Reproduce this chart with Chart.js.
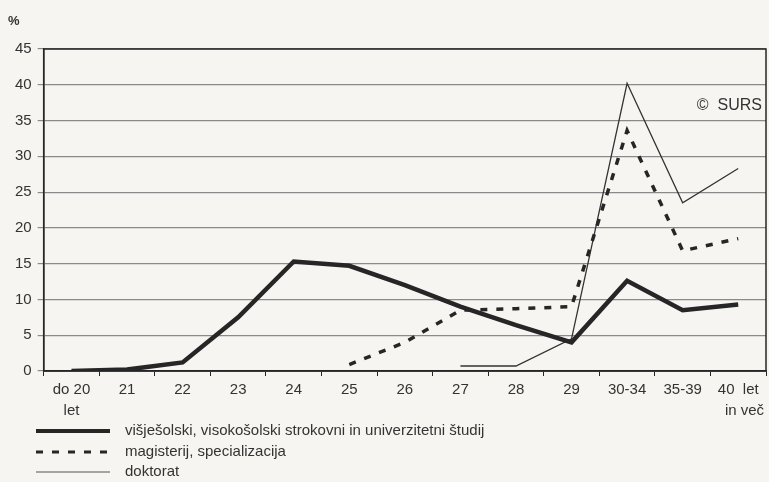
<!DOCTYPE html>
<html>
<head>
<meta charset="utf-8">
<script src="https://cdn.jsdelivr.net/npm/chart.js@4/dist/chart.umd.min.js"></script>
<style>
  html, body { margin: 0; padding: 0; background: #f6f5f1; }
  #wrap { position: relative; width: 769px; height: 482px; }
</style>
</head>
<body>
<div id="wrap"><canvas id="c" width="769" height="482"></canvas></div>
<script>
// --- Data
const ageGroups = [
  ["do 20", "let"], "21", "22", "23", "24", "25", "26", "27", "28", "29",
  "30-34", "35-39", ["40  let", "   in več"]
];
const visjeVisoko = [0, 0.2, 1.2, 7.5, 15.3, 14.7, 12, 9, 6.4, 4, 12.6, 8.5, 9.3];
const magisterij  = [null, null, null, null, null, 0.9, 4, 8.5, 8.7, 9, 33.6, 16.8, 18.5];
const doktorat    = [null, null, null, null, null, null, null, 0.7, 0.7, 4.5, 40.2, 23.5, 28.3];

const seriesNames = [
  "višješolski, visokošolski strokovni in univerzitetni študij",
  "magisterij, specializacija",
  "doktorat"
];
const yTicks = [0, 5, 10, 15, 20, 25, 30, 35, 40, 45];

const ink = "#262626";
const font = { family: "'Liberation Sans', Arial, sans-serif", size: 15 };

// ------------------------------------------
// EXTRAS: frame, %, SURS, legend
// ------------------------------------------
const extras = {
  id: "extras",
  afterDraw(chart) {
    const ctx = chart.ctx;
    const a = chart.chartArea;
    ctx.save();
    ctx.strokeStyle = ink;
    ctx.lineWidth = 1.5;
    ctx.strokeRect(a.left, a.top, a.right - a.left, a.bottom - a.top);

    ctx.fillStyle = "#333";
    ctx.font = "bold 13px 'Liberation Sans', Arial, sans-serif";
    ctx.textBaseline = "middle";
    ctx.fillText("%", 8, 21);

    ctx.font = "16px 'Liberation Sans', Arial, sans-serif";
    ctx.textAlign = "right";
    ctx.fillText("©  SURS", a.right - 4, 106);

    // legend
    ctx.font = "15px 'Liberation Sans', Arial, sans-serif";
    ctx.textAlign = "left";
    const rows = [431, 452, 472];
    const styles = [
      { w: 4, dash: [] },
      { w: 3, dash: [7, 9] },
      { w: 1.2, dash: [] }
    ];
    rows.forEach((y, i) => {
      ctx.beginPath();
      ctx.lineWidth = styles[i].w;
      ctx.setLineDash(styles[i].dash);
      ctx.strokeStyle = i === 2 ? "#555" : ink;
      ctx.moveTo(36, y);
      ctx.lineTo(110, y);
      ctx.stroke();
      ctx.setLineDash([]);
      ctx.fillText(seriesNames[i], 125, y);
    });
    ctx.restore();
  }
};

new Chart(document.getElementById("c"), {
  type: "line",
  data: {
    labels: ageGroups,
    datasets: [
      {
        label: seriesNames[0],
        data: visjeVisoko,
        borderColor: ink,
        borderWidth: 4.5,
        pointRadius: 0,
        tension: 0
      },
      {
        label: seriesNames[1],
        data: magisterij,
        borderColor: ink,
        borderWidth: 3.5,
        borderDash: [7, 9],
        pointRadius: 0,
        tension: 0
      },
      {
        label: seriesNames[2],
        data: doktorat,
        borderColor: "#333",
        borderWidth: 1.3,
        pointRadius: 0,
        tension: 0
      }
    ]
  },
  options: {
    responsive: false,
    animation: false,
    layout: { padding: { left: 9, right: 3, top: 49, bottom: 58 } },
    plugins: { legend: { display: false }, tooltip: { enabled: false } },
    scales: {
      x: {
        offset: true,
        grid: {
          offset: true,
          drawOnChartArea: false,
          drawTicks: true,
          tickLength: 5,
          color: ink
        },
        border: { color: ink, width: 1.5 },
        ticks: {
          color: "#333",
          font: { family: font.family, size: 15, lineHeight: 1.4 },
          padding: 3,
          maxRotation: 0,
          autoSkip: false
        }
      },
      y: {
        min: 0,
        max: 45,
        afterBuildTicks(scale) {
          scale.ticks = yTicks.map(v => ({ value: v }));
        },
        grid: { color: "#8a8a8a", lineWidth: 1.2, tickLength: 6 },
        border: { color: ink, width: 1.5 },
        ticks: { color: "#333", font: font, padding: 6 }
      }
    }
  },
  plugins: [extras]
});
</script>
</body>
</html>
